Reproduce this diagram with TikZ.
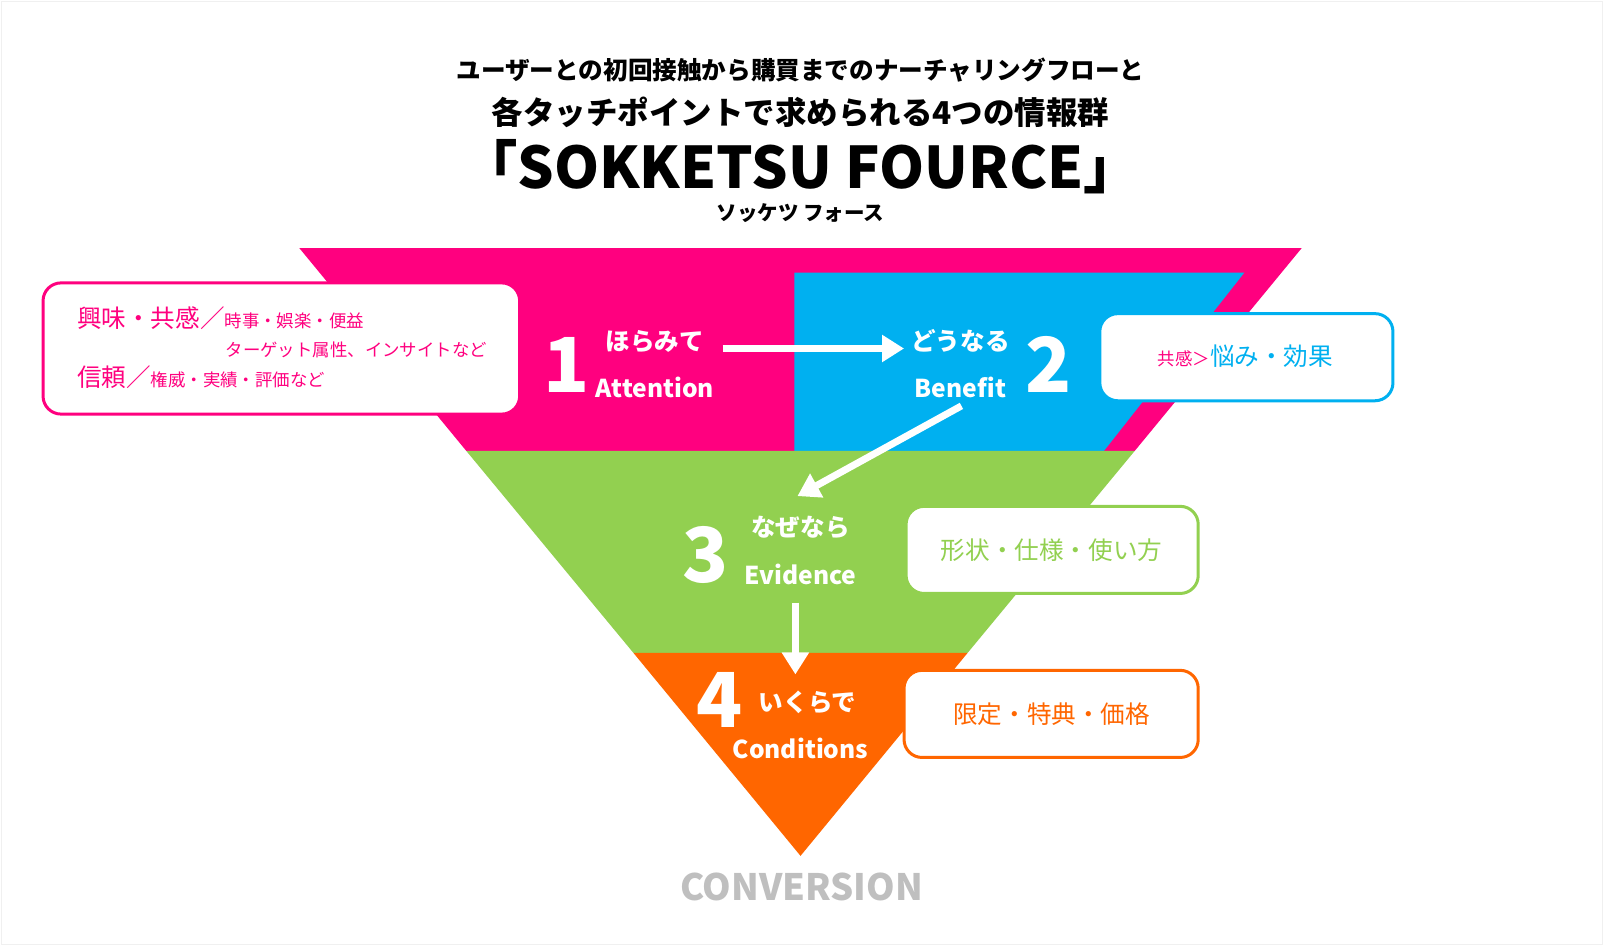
\documentclass[tikz,border=0pt]{standalone}
\usepackage{fontspec}
\setmainfont{Noto Sans CJK JP}
\usetikzlibrary{arrows.meta}
\definecolor{pinkc}{HTML}{FF007F}
\definecolor{bluec}{HTML}{00B0F0}
\definecolor{greenc}{HTML}{92D050}
\definecolor{orangec}{HTML}{FF6600}
\definecolor{grayc}{HTML}{BFBFBF}
\newcommand{\fs}[1]{\fontsize{\dimexpr #1pt*41/40\relax}{\dimexpr #1pt*41/40\relax}\selectfont}
\tikzset{
  infobox/.style={draw=#1, line width=3pt, fill=white, rounded corners=18pt},
  flowlabel/.style={text=white, font=\bfseries\fs{24}, inner sep=0pt},
  bigdigit/.style={text=white, font=\bfseries\fs{74}, inner sep=0pt},
  flowarrow/.style={draw=white, line width=7pt, -{Triangle[length=22pt,width=26pt]}},
  titletext/.style={text=black, inner sep=0pt},
}
\begin{document}
\begin{tikzpicture}[x=1.025pt,y=-1.025pt]
\useasboundingbox (0,0) rectangle (1564.9,923.9);
\fill[white] (0,0) rectangle (1564.9,923.9);
\draw[black!6, line width=1pt] (1,1) rectangle (1563,921);

% title
\node[titletext, font=\bfseries\fs{24}] (t1) at (781,68) {ユーザーとの初回接触から購買までのナーチャリングフローと};
\node[titletext, font=\bfseries\fs{30.7}] (t2) at (781,110) {各タッチポイントで求められる4つの情報群};
\node[titletext, font=\bfseries\fs{56}] (t3) at (781,163) {「SOKKETSU FOURCE」};
\node[titletext, font=\bfseries\fs{20}] (t4) at (781,208) {ソッケツ フォース};

% funnel
\fill[pinkc] (292,242) -- (1270,242) -- (1107,440) -- (455,440) -- cycle;
\fill[bluec] (775,266) -- (1214,266) -- (1077,440) -- (775,440) -- cycle;
\fill[greenc] (455,440) -- (1107,440) -- (944,637) -- (618,637) -- cycle;
\fill[orangec] (618,637) -- (944,637) -- (781,835) -- cycle;

% info boxes
\draw[infobox=pinkc] (42,276) rectangle (507,404);
\draw[infobox=bluec] (1073,306) rectangle (1359,391);
\draw[infobox=greenc] (884,494) rectangle (1169,579);
\draw[infobox=orangec] (882,654) rectangle (1169,739);

% left box text
\node[anchor=base west, inner sep=0pt, text=pinkc] (l1) at (75,320)
  {{\fs{24}興味・共感／}{\fs{17}時事・娯楽・便益}};
\node[anchor=base west, inner sep=0pt, text=pinkc, font=\fs{17}] (l2) at (220,348)
  {ターゲット属性、インサイトなど};
\node[anchor=base west, inner sep=0pt, text=pinkc] (l3) at (75,377)
  {{\fs{24}信頼／}{\fs{17}権威・実績・評価など}};

% other box texts
\node[inner sep=0pt] (r2) at (1215,348)
  {{\color{pinkc}\fs{17}共感＞}{\color{bluec}\fs{24}悩み・効果}};
\node[inner sep=0pt, text=greenc, font=\fs{24}] (r3) at (1026,537) {形状・仕様・使い方};
\node[inner sep=0pt, text=orangec, font=\fs{24}] (r4) at (1026,697) {限定・特典・価格};

% funnel labels
\node[bigdigit] (d1) at (553,356) {1};
\node[flowlabel] (j1) at (639,333) {ほらみて};
\node[flowlabel] (e1) at (639,378) {Attention};
\node[flowlabel] (j2) at (937,333) {どうなる};
\node[flowlabel] (e2) at (937,378) {Benefit};
\node[bigdigit] (d2) at (1023,356) {2};
\node[bigdigit] (d3) at (688,541) {3};
\node[flowlabel] (j3) at (781,515) {なぜなら};
\node[flowlabel] (e3) at (781,560) {Evidence};
\node[bigdigit] (d4) at (702,683) {4};
\node[flowlabel] (j4) at (788,685) {いくらで};
\node[flowlabel] (e4) at (781,730) {Conditions};

\node[inner sep=0pt, text=grayc, font=\bfseries\fs{35.5}] (conv) at (782,865) {CONVERSION};

% arrows
\coordinate (a1s) at (705,340);
\coordinate (a1e) at (882,340);
\coordinate (a2s) at (938,396);
\coordinate (a2e) at (778,484);
\coordinate (a3s) at (776,588);
\coordinate (a3e) at (776,658);
\draw[flowarrow] (a1s) -- (a1e);
\draw[flowarrow] (a2s) -- (a2e);
\draw[flowarrow] (a3s) -- (a3e);
\end{tikzpicture}
\end{document}
